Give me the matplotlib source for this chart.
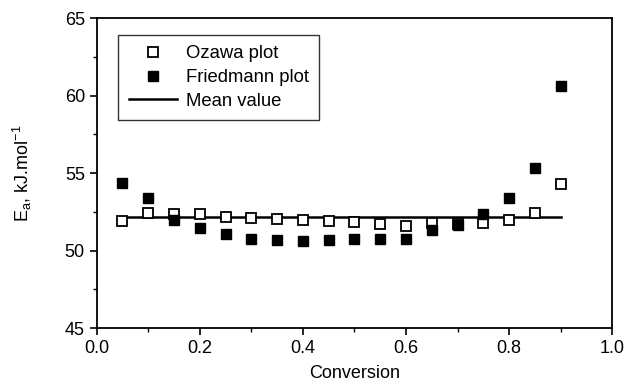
import numpy as np
import matplotlib
matplotlib.use("Agg")
import matplotlib.pyplot as plt
from matplotlib.ticker import MultipleLocator

plt.rcParams['font.family'] = ['Liberation Sans', 'DejaVu Sans']

# conversion levels
conversion = [0.05, 0.10, 0.15, 0.20, 0.25, 0.30, 0.35, 0.40, 0.45,
              0.50, 0.55, 0.60, 0.65, 0.70, 0.75, 0.80, 0.85, 0.90]
# activation energies, kJ/mol
ozawa = [51.9, 52.4, 52.35, 52.35, 52.2, 52.08, 52.03, 51.99, 51.92,
         51.86, 51.69, 51.58, 51.75, 51.7, 51.75, 51.97, 52.45, 54.3]
friedmann = [54.37, 53.4, 51.97, 51.43, 51.1, 50.74, 50.68, 50.6, 50.68,
             50.72, 50.72, 50.72, 51.3, 51.65, 52.35, 53.4, 55.3, 60.6]
mean_value = 52.2

fig = plt.figure(figsize=(6.24, 3.86), dpi=100)
ax = fig.add_axes([0.155, 0.15, 0.826, 0.803])

ax.plot(conversion, ozawa, 's', ms=7.8, mfc='white', mec='black', mew=1.3,
        ls='none', label='Ozawa plot', zorder=3)
ax.plot(conversion, friedmann, 's', ms=7.8, mfc='black', mec='black',
        ls='none', label='Friedmann plot', zorder=3)
ax.plot([conversion[0], conversion[-1]], [mean_value, mean_value], '-',
        color='black', lw=1.8, label='Mean value', zorder=2)

ax.set_xlim(0, 1.0)
ax.set_ylim(45, 65)
ax.xaxis.set_major_locator(MultipleLocator(0.2))
ax.xaxis.set_minor_locator(MultipleLocator(0.1))
ax.yaxis.set_major_locator(MultipleLocator(5))
ax.yaxis.set_minor_locator(MultipleLocator(2.5))
ax.xaxis.set_major_formatter(matplotlib.ticker.FormatStrFormatter('%.1f'))
ax.tick_params(which='major', direction='out', length=5, width=1.2,
               labelsize=13, top=False, right=False)
ax.tick_params(which='minor', direction='out', length=3, width=1.0,
               top=False, right=False)
for sp in ax.spines.values():
    sp.set_linewidth(1.3)

ax.set_xlabel('Conversion', fontsize=13, labelpad=6)
ax.set_ylabel('E$_{\\mathregular{a}}$, kJ.mol$^{\\mathregular{-1}}$', fontsize=13, labelpad=22)

leg = ax.legend(loc='upper left', bbox_to_anchor=(0.042, 0.945), fontsize=13.3,
                frameon=True, fancybox=False, edgecolor='black',
                handlelength=2.6, handletextpad=0.5, borderpad=0.55,
                labelspacing=0.36, borderaxespad=0)
leg.get_frame().set_linewidth(1.0)

fig.savefig('out.png', dpi=100)
